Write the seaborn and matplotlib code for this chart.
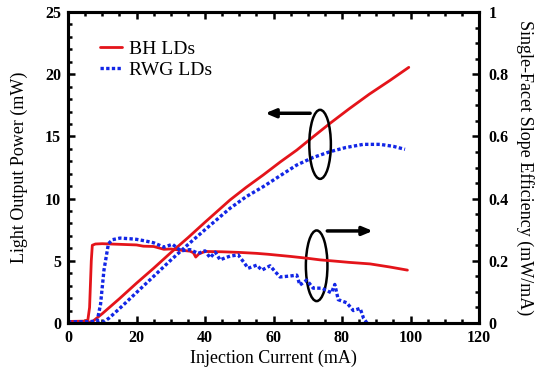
import matplotlib
matplotlib.use("Agg")
import matplotlib.pyplot as plt
from matplotlib.patches import Ellipse
from matplotlib.ticker import MultipleLocator
import seaborn as sns
import numpy as np

# ---------------- data ----------------
# Light output power (mW) vs injection current (mA)
bh_li_current = [0, 4, 6.5, 7.3, 10, 15, 20, 25, 30, 35, 40, 47.3, 52, 57, 62, 66.8,
                 71.5, 76.5, 82, 88, 94, 99.5]
bh_li_power = [0.05, 0.06, 0.08, 0.15, 0.75, 1.95, 3.2, 4.4, 5.65, 6.85, 8.1, 9.89,
               10.9, 11.9, 12.95, 13.9, 14.95, 16.05, 17.2, 18.4, 19.5, 20.55]

rwg_li_current = [0, 5, 9, 10.5, 12, 15, 20, 25, 30, 35, 40, 47.3, 52, 57, 62, 66.8,
                  71.5, 76.5, 81, 86.2, 91.1, 95, 98.4]
rwg_li_power = [0.05, 0.05, 0.06, 0.1, 0.4, 1.15, 2.45, 3.75, 5.05, 6.3, 7.5, 9.22,
                10.15, 10.96, 11.85, 12.7, 13.3, 13.77, 14.1, 14.36, 14.36, 14.2, 13.96]

# Single-facet slope efficiency (mW/mA) vs injection current (mA)
bh_se_current = [0, 5, 5.8, 6.3, 6.8, 7.1, 8, 10, 15, 20, 22, 25, 28, 30, 33, 35.6,
                 36.6, 37.3, 38.2, 40, 45, 50, 55, 58.4, 65, 70, 73.6, 77.9, 82, 88.2,
                 94, 99.1]
bh_se_value = [0.005, 0.006, 0.01, 0.05, 0.2, 0.25, 0.254, 0.255, 0.253, 0.251, 0.247,
               0.246, 0.237, 0.238, 0.234, 0.231, 0.226, 0.212, 0.222, 0.23, 0.229,
               0.227, 0.224, 0.221, 0.214, 0.208, 0.203, 0.199, 0.195, 0.19, 0.18, 0.17]

rwg_se_current = [0, 5, 8.5, 9.5, 10.5, 11.8, 13, 15.2, 18, 20, 22.5, 25, 28, 30.5, 33,
                  35.6, 38, 40, 41.5, 43, 44.4, 46, 47.3, 49.7, 51, 52.6, 55.1, 56.6,
                  59, 60.5, 61.9, 64.8, 66.8, 67.7, 69.7, 71.6, 74.1, 76.9, 77.9, 78.9,
                  81.4, 83.3, 85.3, 86.3, 87.3]
rwg_se_value = [0.004, 0.004, 0.006, 0.06, 0.17, 0.255, 0.268, 0.273, 0.271, 0.269,
                0.264, 0.258, 0.244, 0.253, 0.232, 0.236, 0.224, 0.232, 0.21, 0.228,
                0.203, 0.21, 0.215, 0.219, 0.2, 0.176, 0.186, 0.17, 0.184, 0.165, 0.148,
                0.151, 0.154, 0.122, 0.138, 0.112, 0.112, 0.097, 0.124, 0.075, 0.065,
                0.04, 0.047, 0.015, 0.0]

series_labels = ["BH LDs", "RWG LDs"]
x_label = "Injection Current (mA)"
y_label = "Light Output Power (mW)"
y2_label = "Single-Facet Slope Efficiency (mW/mA)"

# ---------------- style ----------------
sns.set_style("ticks")
plt.rcParams["font.family"] = ["Liberation Serif", "DejaVu Serif"]
plt.rcParams["text.color"] = "black"
plt.rcParams["axes.labelcolor"] = "black"
plt.rcParams["xtick.color"] = "black"
plt.rcParams["ytick.color"] = "black"

RED = "#e4141a"
BLUE = "#1226e6"

fig = plt.figure(figsize=(5.37, 3.72), dpi=100)
ax = fig.add_axes([68 / 537, 1 - 323 / 372, 411 / 537, 311 / 372])
ax2 = ax.twinx()

sns.lineplot(x=bh_li_current, y=bh_li_power, ax=ax, color=RED, lw=2.0, label=series_labels[0])
sns.lineplot(x=rwg_li_current, y=rwg_li_power, ax=ax, color=BLUE, lw=2.4,
             linestyle=(0, (1.0, 0.7)), label=series_labels[1])
sns.lineplot(x=bh_se_current, y=bh_se_value, ax=ax2, color=RED, lw=2.0, legend=False)
sns.lineplot(x=rwg_se_current, y=rwg_se_value, ax=ax2, color=BLUE, lw=2.4,
             linestyle=(0, (1.0, 0.7)), legend=False)

ax.set_xlim(0, 120)
ax.set_ylim(0, 25)
ax2.set_ylim(0, 1)

ax.xaxis.set_major_locator(MultipleLocator(20))
ax.xaxis.set_minor_locator(MultipleLocator(5))
ax.yaxis.set_major_locator(MultipleLocator(5))
ax.yaxis.set_minor_locator(MultipleLocator(1))
ax2.set_yticks([0, 0.2, 0.4, 0.6, 0.8, 1.0])
ax2.set_yticklabels(["0", "0.2", "0.4", "0.6", "0.8", "1"])
ax2.yaxis.set_minor_locator(MultipleLocator(0.05))

for a in (ax, ax2):
    for s in a.spines.values():
        s.set_visible(True)
        s.set_linewidth(2.2)
        s.set_color("black")

ax.tick_params(axis="both", which="both", direction="in", width=1.8, colors="black",
               top=True, right=False, labelsize=11.5, pad=5)
ax.tick_params(which="major", length=5)
ax.tick_params(which="minor", length=3)
ax2.tick_params(axis="y", which="both", direction="in", width=1.8, colors="black",
                right=True, left=False, labelsize=11.5, pad=7)
ax2.tick_params(which="major", length=5)
ax2.tick_params(which="minor", length=3)
for a in (ax, ax2):
    for lab in a.get_xticklabels() + a.get_yticklabels():
        lab.set_fontweight("bold")

ax.set_xlabel(x_label, fontsize=13, labelpad=3)
ax.set_ylabel(y_label, fontsize=13, labelpad=12)
ax2.set_ylabel(y2_label, fontsize=13, rotation=270, va="bottom", labelpad=5)

leg = ax.legend(loc="upper left", bbox_to_anchor=(0.058, 0.935), frameon=False,
                fontsize=14, handlelength=1.15, handletextpad=0.35, labelspacing=0.2,
                borderaxespad=0)
for t in leg.get_texts():
    t.set_color("black")

# annotations: ellipses with arrows indicating axis
ax.add_patch(Ellipse((73.6, 14.36), 6.3, 5.55, fill=False, ec="black", lw=1.8, zorder=5))
ax.add_patch(Ellipse((72.6, 4.6), 6.3, 5.68, fill=False, ec="black", lw=1.8, zorder=5))
ax.annotate("", xy=(57.6, 16.86), xytext=(70.7, 16.86),
            arrowprops=dict(arrowstyle="-|>,head_length=0.6,head_width=0.25",
                            lw=2.5, color="black", shrinkA=0, shrinkB=0))
ax.annotate("", xy=(89.0, 7.4), xytext=(75.7, 7.4),
            arrowprops=dict(arrowstyle="-|>,head_length=0.6,head_width=0.25",
                            lw=2.5, color="black", shrinkA=0, shrinkB=0))

fig.savefig("out.png", dpi=100)
